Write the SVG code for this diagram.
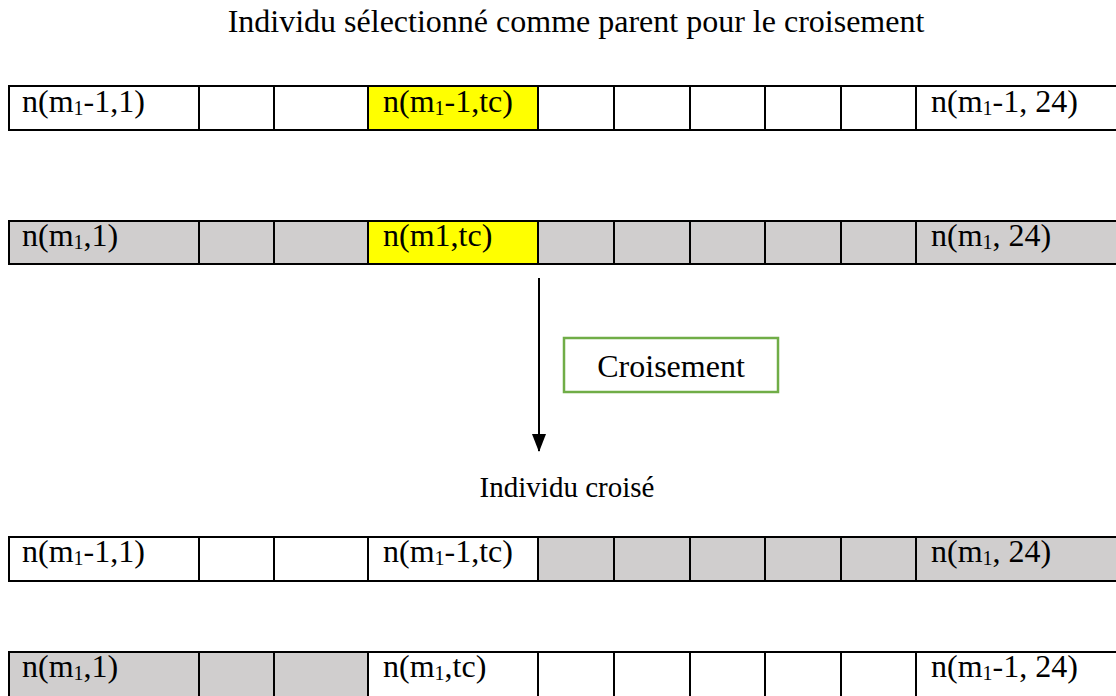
<svg xmlns="http://www.w3.org/2000/svg" width="1116" height="696" viewBox="0 0 1116 696">
  <defs>
    <style>
      .t { font-family: "Liberation Serif", "Times New Roman", serif; font-size: 32px; fill: #000; }
      .sub { font-size: 20px; }
      .c { stroke: #000; stroke-width: 2; }
      .w { fill: #fff; }
      .g { fill: #d0cece; }
      .y { fill: #ffff00; }
    </style>
    <marker id="arrowhead" markerWidth="18" markerHeight="14" refX="17" refY="7" orient="auto" markerUnits="userSpaceOnUse" viewBox="0 0 18 14">
      <path d="M0,0 L18,7 L0,14 Z" fill="#000"/>
    </marker>
  </defs>

  <rect width="1116" height="696" fill="#fff"/>

  <!-- heading -->
  <text class="t" x="576" y="32" text-anchor="middle">Individu sélectionné comme parent pour le croisement</text>

  <!-- parent 1 -->
  <g id="parent1">
    <rect class="c w" x="9" y="86" width="190" height="44"/>
    <rect class="c w" x="199" y="86" width="75" height="44"/>
    <rect class="c w" x="274" y="86" width="94" height="44"/>
    <rect class="c y" x="368" y="86" width="170" height="44"/>
    <rect class="c w" x="538" y="86" width="76" height="44"/>
    <rect class="c w" x="614" y="86" width="76" height="44"/>
    <rect class="c w" x="690" y="86" width="75" height="44"/>
    <rect class="c w" x="765" y="86" width="76" height="44"/>
    <rect class="c w" x="841" y="86" width="75" height="44"/>
    <rect class="c w" x="916" y="86" width="202" height="44"/>
    <text class="t" x="22" y="112">n(m<tspan class="sub" dy="3">1</tspan><tspan dy="-3">-1,1)</tspan></text>
    <text class="t" x="383" y="112">n(m<tspan class="sub" dy="3">1</tspan><tspan dy="-3">-1,tc)</tspan></text>
    <text class="t" x="931" y="112">n(m<tspan class="sub" dy="3">1</tspan><tspan dy="-3">-1, 24)</tspan></text>
  </g>

  <!-- parent 2 -->
  <g id="parent2">
    <rect class="c g" x="9" y="221" width="190" height="43"/>
    <rect class="c g" x="199" y="221" width="75" height="43"/>
    <rect class="c g" x="274" y="221" width="94" height="43"/>
    <rect class="c y" x="368" y="221" width="170" height="43"/>
    <rect class="c g" x="538" y="221" width="76" height="43"/>
    <rect class="c g" x="614" y="221" width="76" height="43"/>
    <rect class="c g" x="690" y="221" width="75" height="43"/>
    <rect class="c g" x="765" y="221" width="76" height="43"/>
    <rect class="c g" x="841" y="221" width="75" height="43"/>
    <rect class="c g" x="916" y="221" width="202" height="43"/>
    <text class="t" x="22" y="246">n(m<tspan class="sub" dy="3">1</tspan><tspan dy="-3">,1)</tspan></text>
    <text class="t" x="383" y="246">n(m1,tc)</text>
    <text class="t" x="931" y="246">n(m<tspan class="sub" dy="3">1</tspan><tspan dy="-3">, 24)</tspan></text>
  </g>

  <!-- operator label -->
  <g id="croisement">
    <rect x="564" y="338" width="214" height="54" fill="#fff" stroke="#70ad47" stroke-width="2.5"/>
    <text class="t" x="671" y="377" text-anchor="middle">Croisement</text>
  </g>

  <!-- connectors -->
  <g id="connectors">
    <line x1="539" y1="278" x2="539" y2="451" stroke="#000" stroke-width="2" marker-end="url(#arrowhead)"/>
  </g>

  <text class="t" x="567" y="497" text-anchor="middle" style="font-size:29px">Individu croisé</text>

  <!-- offspring 1 -->
  <g id="offspring1">
    <rect class="c w" x="9" y="537" width="190" height="44"/>
    <rect class="c w" x="199" y="537" width="75" height="44"/>
    <rect class="c w" x="274" y="537" width="94" height="44"/>
    <rect class="c w" x="368" y="537" width="170" height="44"/>
    <rect class="c g" x="538" y="537" width="76" height="44"/>
    <rect class="c g" x="614" y="537" width="76" height="44"/>
    <rect class="c g" x="690" y="537" width="75" height="44"/>
    <rect class="c g" x="765" y="537" width="76" height="44"/>
    <rect class="c g" x="841" y="537" width="75" height="44"/>
    <rect class="c g" x="916" y="537" width="202" height="44"/>
    <text class="t" x="22" y="562">n(m<tspan class="sub" dy="3">1</tspan><tspan dy="-3">-1,1)</tspan></text>
    <text class="t" x="383" y="562">n(m<tspan class="sub" dy="3">1</tspan><tspan dy="-3">-1,tc)</tspan></text>
    <text class="t" x="931" y="562">n(m<tspan class="sub" dy="3">1</tspan><tspan dy="-3">, 24)</tspan></text>
  </g>

  <!-- offspring 2 -->
  <g id="offspring2">
    <rect class="c g" x="9" y="652" width="190" height="47"/>
    <rect class="c g" x="199" y="652" width="75" height="47"/>
    <rect class="c g" x="274" y="652" width="94" height="47"/>
    <rect class="c w" x="368" y="652" width="170" height="47"/>
    <rect class="c w" x="538" y="652" width="76" height="47"/>
    <rect class="c w" x="614" y="652" width="76" height="47"/>
    <rect class="c w" x="690" y="652" width="75" height="47"/>
    <rect class="c w" x="765" y="652" width="76" height="47"/>
    <rect class="c w" x="841" y="652" width="75" height="47"/>
    <rect class="c w" x="916" y="652" width="202" height="47"/>
    <text class="t" x="22" y="677">n(m<tspan class="sub" dy="3">1</tspan><tspan dy="-3">,1)</tspan></text>
    <text class="t" x="383" y="677">n(m<tspan class="sub" dy="3">1</tspan><tspan dy="-3">,tc)</tspan></text>
    <text class="t" x="931" y="677">n(m<tspan class="sub" dy="3">1</tspan><tspan dy="-3">-1, 24)</tspan></text>
  </g>
</svg>
